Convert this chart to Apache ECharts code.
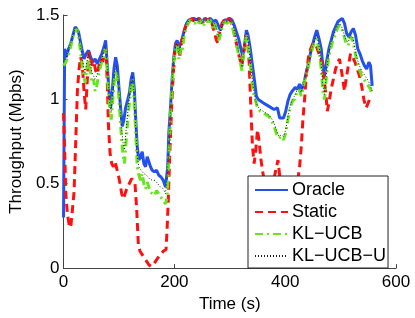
<!DOCTYPE html>
<html>
<head>
<meta charset="utf-8">
<script src="https://cdn.jsdelivr.net/npm/echarts@6/dist/echarts.min.js"></script>
<style>
html,body{margin:0;padding:0;background:#fff;}
#c{width:415px;height:318px;}
</style>
</head>
<body>
<div id="c"></div>
<script>
var xTicks = [0, 200, 400, 600];
var yTicks = [0, 0.5, 1, 1.5];
var seriesNames = ['Oracle', 'Static', 'KL\u2212UCB', 'KL\u2212UCB\u2212U'];

var oracleT = [0,2,5,9,13,17,21,24,27,30,33,37,41,45,49,53,57,61,65,69,73,76,79,82,85,88,91,94,97,100,103,106,109,112,116,119,122,125,128,130,133,136,139,142,145,148,151,154,157,160,164,168,172,176,180,184,186,188,190,193,196,199,202,205,208,211,214,218,222,226,230,235,240,245,250,255,260,265,270,275,279,283,287,291,295,300,304,308,312,316,320,324,327,330,333,337,341,345,348,351,360,370,380,386,390,397,401,405,409,413,418,422,426,430,434,438,442,446,450,454,457,461,465,468,471,475,479,483,487,491,495,499,503,507,511,515,519,523,527,531,535,539,543,547,551,554,557];
var oracleV = [0.30,1.30,1.25,1.30,1.33,1.38,1.43,1.44,1.40,1.35,1.30,1.24,1.27,1.29,1.25,1.22,1.24,1.21,1.24,1.27,1.31,1.35,1.20,1.05,0.95,1.05,1.18,1.25,1.20,1.07,0.95,0.84,0.88,0.95,1.00,1.04,1.12,1.16,1.05,0.90,0.72,0.64,0.66,0.69,0.62,0.60,0.66,0.63,0.60,0.58,0.57,0.58,0.55,0.54,0.52,0.48,0.47,0.60,0.80,0.95,1.12,1.25,1.33,1.35,1.30,1.33,1.36,1.41,1.45,1.47,1.47,1.48,1.47,1.48,1.46,1.48,1.47,1.48,1.46,1.47,1.44,1.41,1.45,1.47,1.47,1.48,1.47,1.44,1.40,1.36,1.30,1.25,1.33,1.41,1.38,1.30,1.20,1.10,1.02,1.00,0.98,0.96,0.94,0.95,0.89,0.89,0.93,0.99,1.03,1.05,1.07,1.06,1.09,1.06,1.10,1.16,1.21,1.28,1.33,1.38,1.41,1.36,1.30,1.20,1.14,1.23,1.30,1.35,1.40,1.43,1.46,1.47,1.48,1.45,1.39,1.37,1.40,1.42,1.38,1.30,1.27,1.23,1.20,1.18,1.22,1.20,1.08];

var staticT = [0,2,4,7,10,13,16,19,22,25,28,31,34,37,40,43,46,49,52,55,58,61,64,67,70,73,76,79,81,84,87,90,93,96,99,102,105,108,111,114,117,120,123,126,129,132,135,138,142,146,150,154,158,162,166,170,175,180,185,187,189,192,195,198,201,204,207,210,213,216,220,224,228,232,236,240,244,248,252,256,260,264,268,272,276,279,282,286,290,294,298,302,306,310,314,318,322,326,329,332,335,338,341,344,347,350,353,356,359,363,368,373,378,383,387,390,395,400,410,420,426,429,432,435,438,442,446,450,454,458,462,466,470,473,476,479,483,487,491,495,498,501,504,507,510,514,518,522,526,530,534,538,542,546,550,554];
var staticV = [0.92,0.70,0.45,0.32,0.26,0.24,0.25,0.45,0.75,1.05,1.18,1.25,1.20,1.05,0.94,1.12,1.28,1.25,1.20,1.22,1.17,1.15,1.20,1.24,1.22,1.26,1.30,1.10,0.85,0.68,0.62,0.60,0.63,0.64,0.55,0.50,0.44,0.41,0.44,0.47,0.49,0.50,0.53,0.52,0.50,0.35,0.14,0.10,0.08,0.06,0.04,0.02,0.01,0.02,0.04,0.06,0.08,0.10,0.11,0.24,0.40,0.70,0.95,1.15,1.28,1.33,1.30,1.26,1.34,1.38,1.43,1.46,1.47,1.48,1.46,1.47,1.48,1.45,1.47,1.48,1.46,1.48,1.45,1.40,1.35,1.33,1.40,1.45,1.47,1.46,1.48,1.46,1.42,1.36,1.30,1.24,1.20,1.30,1.38,1.35,1.22,0.95,0.72,0.62,0.70,0.82,0.75,0.65,0.58,0.50,0.45,0.45,0.50,0.58,0.64,0.55,0.45,0.40,0.38,0.45,0.60,0.72,0.88,1.00,1.14,1.25,1.30,1.33,1.33,1.30,1.26,1.22,1.12,1.05,0.93,0.98,1.06,1.12,1.18,1.22,1.24,1.18,1.12,1.05,1.12,1.20,1.27,1.25,1.22,1.18,1.14,1.08,1.00,0.95,0.98,1.02];

var klucbT = [0,4,8,12,16,20,24,27,30,33,36,39,42,45,48,51,54,57,60,63,67,71,75,77,80,83,86,89,92,95,98,101,104,107,110,113,117,121,124,127,130,133,136,139,142,145,148,151,154,157,160,164,168,172,176,180,184,187,190,193,196,199,202,205,208,211,214,217,221,225,229,233,237,241,245,249,253,257,261,265,269,273,277,280,283,287,291,295,299,303,307,311,315,319,322,325,328,331,334,338,342,346,350,355,360,365,370,375,380,385,389,393,397,401,405,409,413,417,421,425,429,433,437,441,445,449,453,457,461,465,468,471,474,478,482,486,490,494,498,502,506,510,514,518,522,526,530,534,538,542,546,550,554,557];
var klucbV = [1.20,1.22,1.26,1.30,1.36,1.40,1.42,1.38,1.30,1.22,1.15,1.10,1.18,1.24,1.18,1.10,1.12,1.05,1.08,1.14,1.20,1.24,1.30,1.26,1.10,0.95,0.88,1.00,1.12,1.17,1.10,0.95,0.80,0.68,0.62,0.75,0.92,1.05,1.12,1.02,0.82,0.60,0.55,0.52,0.56,0.50,0.47,0.51,0.48,0.45,0.46,0.43,0.46,0.44,0.42,0.40,0.38,0.42,0.65,0.90,1.08,1.22,1.30,1.32,1.24,1.30,1.28,1.36,1.42,1.45,1.47,1.46,1.45,1.47,1.45,1.47,1.44,1.47,1.46,1.47,1.42,1.45,1.40,1.35,1.38,1.44,1.46,1.45,1.47,1.45,1.40,1.35,1.28,1.22,1.17,1.27,1.35,1.38,1.30,1.18,1.05,1.00,0.95,0.93,0.92,0.91,0.90,0.88,0.84,0.79,0.77,0.78,0.76,0.80,0.88,0.95,0.99,1.00,1.04,1.06,1.02,1.08,1.14,1.18,1.25,1.30,1.34,1.36,1.30,1.18,1.05,1.00,1.12,1.24,1.30,1.35,1.38,1.42,1.44,1.42,1.38,1.33,1.32,1.37,1.35,1.28,1.22,1.18,1.14,1.12,1.10,1.08,1.06,1.03];

var klucbuT = [0,4,8,12,16,20,24,27,30,33,36,39,42,45,48,51,54,57,60,63,67,71,75,77,80,83,86,89,92,95,98,101,104,107,110,113,117,121,124,127,130,133,136,140,145,150,155,160,165,170,175,180,184,187,190,193,196,199,202,205,208,211,214,217,221,225,229,233,237,241,245,249,253,257,261,265,269,273,277,280,283,287,291,295,299,303,307,311,315,319,322,325,328,331,334,338,342,346,350,355,360,365,370,375,380,385,389,393,397,401,405,409,413,417,421,425,429,433,437,441,445,449,453,457,461,465,468,471,474,478,482,486,490,494,498,502,506,510,514,518,522,526,530,534,538,542,546,550,554,557];
var klucbuV = [1.22,1.24,1.28,1.32,1.37,1.41,1.43,1.39,1.32,1.26,1.20,1.16,1.22,1.27,1.22,1.16,1.15,1.12,1.14,1.18,1.22,1.26,1.32,1.28,1.14,0.98,0.93,1.03,1.15,1.20,1.14,1.00,0.86,0.75,0.70,0.82,0.96,1.06,1.14,1.04,0.85,0.66,0.60,0.58,0.56,0.55,0.53,0.52,0.52,0.50,0.48,0.47,0.44,0.45,0.68,0.92,1.10,1.24,1.31,1.33,1.27,1.31,1.32,1.38,1.43,1.46,1.47,1.47,1.46,1.48,1.46,1.47,1.45,1.47,1.47,1.47,1.44,1.45,1.41,1.37,1.40,1.45,1.46,1.46,1.47,1.46,1.42,1.37,1.30,1.24,1.19,1.29,1.37,1.39,1.32,1.20,1.08,1.00,0.96,0.94,0.93,0.92,0.91,0.89,0.86,0.81,0.78,0.79,0.78,0.82,0.90,0.96,1.00,1.02,1.05,1.07,1.04,1.09,1.15,1.19,1.26,1.31,1.35,1.38,1.32,1.21,1.08,1.03,1.14,1.26,1.32,1.37,1.40,1.43,1.45,1.43,1.39,1.35,1.34,1.38,1.37,1.30,1.24,1.20,1.17,1.15,1.13,1.11,1.08,1.05];

function zip(t, v) { return t.map(function (x, i) { return [x, v[i]]; }); }

var chart = echarts.init(document.getElementById('c'), null, {renderer: 'canvas'});
var axisColor = '#444';
var font = 'Liberation Sans, Arial, Helvetica, sans-serif';
chart.setOption({
  animation: false,
  backgroundColor: '#fff',
  grid: {left: 57, top: 15, width: 339, height: 259, containLabel: false},
  xAxis: {
    type: 'value', min: xTicks[0], max: xTicks[xTicks.length - 1], interval: 200,
    name: 'Time (s)', nameLocation: 'middle', nameGap: 23,
    nameTextStyle: {fontSize: 17, color: '#000', fontFamily: font},
    axisLine: {show: true, lineStyle: {color: axisColor, width: 1}},
    axisTick: {show: true, inside: true, length: 4, lineStyle: {color: axisColor}},
    axisLabel: {fontSize: 17, color: '#000', margin: 6, fontFamily: font},
    splitLine: {show: false}
  },
  yAxis: {
    type: 'value', min: yTicks[0], max: yTicks[yTicks.length - 1], interval: 0.5,
    name: 'Throughput (Mpbs)', nameLocation: 'middle', nameGap: 37, nameRotate: 90,
    nameTextStyle: {fontSize: 17, color: '#000', fontFamily: font},
    axisLine: {show: true, lineStyle: {color: axisColor, width: 1}},
    axisTick: {show: true, inside: true, length: 4, lineStyle: {color: axisColor}},
    axisLabel: {fontSize: 17, color: '#000', margin: 4, fontFamily: font},
    splitLine: {show: false}
  },
  legend: {
    orient: 'vertical', left: 248, top: 176,
    backgroundColor: '#fff', borderColor: '#222', borderWidth: 1,
    padding: [5, 2, 3, 6], itemGap: 4, itemWidth: 33, itemHeight: 14,
    itemStyle: {opacity: 0},
    textStyle: {fontSize: 18, color: '#000', fontFamily: font, padding: [0, 0, 0, -1]},
    data: seriesNames
  },
  series: [
    {name: seriesNames[0], type: 'line', data: zip(oracleT, oracleV), symbol: 'none',
      lineStyle: {color: '#2450f0', width: 3}, itemStyle: {color: '#2450f0'}, z: 2},
    {name: seriesNames[1], type: 'line', data: zip(staticT, staticV), symbol: 'none',
      lineStyle: {color: '#ff1010', width: 3, type: [8, 5]}, itemStyle: {color: '#ff1010'}, z: 3},
    {name: seriesNames[2], type: 'line', data: zip(klucbT, klucbV), symbol: 'none',
      lineStyle: {color: '#66e61a', width: 3, type: [8, 4, 2, 4]}, itemStyle: {color: '#66e61a'}, z: 4},
    {name: seriesNames[3], type: 'line', data: zip(klucbuT, klucbuV), symbol: 'none',
      lineStyle: {color: '#222', width: 1, type: [1, 2]}, itemStyle: {color: '#222'}, z: 5}
  ]
});
</script>
</body>
</html>
